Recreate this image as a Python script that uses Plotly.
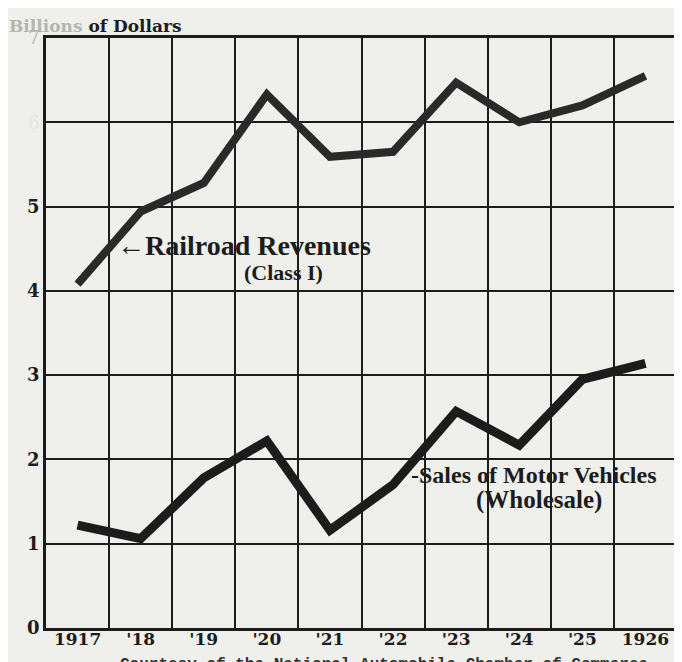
import plotly.graph_objects as go

years = [1917, 1918, 1919, 1920, 1921, 1922, 1923, 1924, 1925, 1926]
year_labels = ["1917", "'18", "'19", "'20", "'21", "'22", "'23", "'24", "'25", "1926"]
railroad = [4.08, 4.94, 5.28, 6.33, 5.59, 5.65, 6.47, 6.00, 6.20, 6.55]
motor = [1.22, 1.06, 1.78, 2.22, 1.16, 1.70, 2.57, 2.17, 2.95, 3.14]
y_ticks = [0, 1, 2, 3, 4, 5, 6, 7]
y_labels = ["<b>0</b>", "<b>1</b>", "<b>2</b>", "<b>3</b>", "<b>4</b>", "<b>5</b>",
            "<span style='color:#e4e4e0'>6</span>",
            "<span style='color:#b8b8b4'>7</span>"]

ink = "#1c1c1c"
paper = "#efefeb"
serif = "Liberation Serif, DejaVu Serif, serif"
wide_serif = "DejaVu Serif, Liberation Serif, serif"

fig = go.Figure()
fig.add_trace(go.Scatter(x=years, y=railroad, mode="lines",
                         line=dict(color="#2a2a2a", width=8), showlegend=False))
fig.add_trace(go.Scatter(x=years, y=motor, mode="lines",
                         line=dict(color=ink, width=9), showlegend=False))

fig.update_layout(
    width=674, height=654,
    margin=dict(l=38, r=2, t=30, b=34),
    paper_bgcolor=paper, plot_bgcolor=paper,
    font=dict(family=serif, color=ink),
    xaxis=dict(range=[1916.5, 1926.5], tickvals=years,
               ticktext=["<b>%s</b>" % t for t in year_labels],
               showgrid=False, showline=True, linecolor=ink, linewidth=2.5,
               mirror=True, ticks="", zeroline=False, ticklabelstandoff=-6,
               tickfont=dict(family=wide_serif, size=17, color=ink),
               minor=dict(tickvals=[y + 0.5 for y in years[:-1]], showgrid=True,
                          gridcolor=ink, gridwidth=2, ticks="")),
    yaxis=dict(range=[0, 7], tickvals=y_ticks, ticktext=y_labels,
               showgrid=True, gridcolor=ink, gridwidth=2,
               showline=True, linecolor=ink, linewidth=2.5, mirror=True,
               ticks="", zeroline=False,
               tickfont=dict(family=wide_serif, size=18, color=ink)),
)

annotations = [
    dict(x=1917.6, y=4.54, xanchor="left", yanchor="middle",
         text="<b>\u2190Railroad Revenues</b>", font=dict(size=28, family=serif, color=ink)),
    dict(x=1920.27, y=4.22, xanchor="center", yanchor="middle",
         text="<b>(Class I)</b>", font=dict(size=22, family=serif, color=ink)),
    dict(x=1922.25, y=1.81, xanchor="left", yanchor="middle",
         text="<b>-Sales of Motor Vehicles</b>", font=dict(size=24, family=serif, color=ink)),
    dict(x=1924.31, y=1.52, xanchor="center", yanchor="middle",
         text="<b>(Wholesale)</b>", font=dict(size=25, family=serif, color=ink)),
    dict(xref="paper", yref="paper", x=-0.062, y=1.0, xanchor="left", yanchor="bottom",
         text="<b><span style='color:#b5b5b0'>Billions</span> of Dollars</b>",
         font=dict(size=17, family=wide_serif, color=ink)),
    dict(xref="paper", yref="paper", x=0.535, y=-0.062, xanchor="center", yanchor="middle",
         text="<b>Courtesy of the National Automobile Chamber of Commerce</b>",
         font=dict(size=16, family="Liberation Mono, monospace", color="#333")),
]
for a in annotations:
    a.setdefault("showarrow", False)
    fig.add_annotation(**a)

fig.write_html("out.html")
